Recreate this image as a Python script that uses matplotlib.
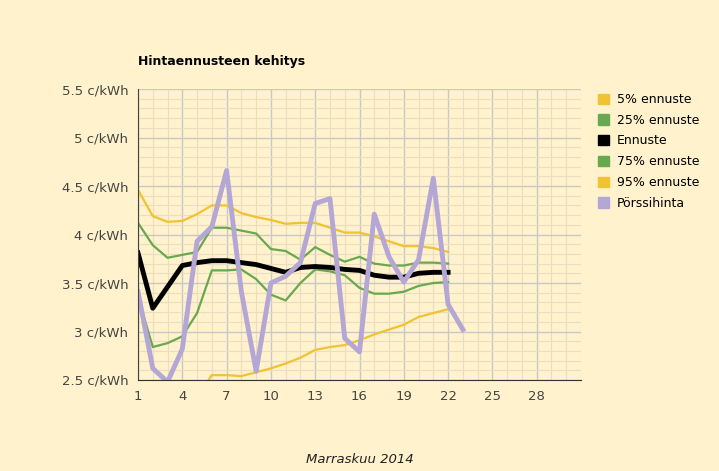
import matplotlib
matplotlib.use("Agg")
import matplotlib.pyplot as plt
from matplotlib.ticker import MultipleLocator
from matplotlib.patches import Patch

days = list(range(1, 23))
p5 = [4.46,4.19,4.13,4.14,4.21,4.30,4.30,4.22,4.18,4.15,4.11,4.12,4.12,4.07,4.02,4.02,3.98,3.93,3.88,3.88,3.86,3.82]
p25 = [4.12,3.89,3.76,3.79,3.82,4.07,4.07,4.04,4.01,3.85,3.83,3.74,3.87,3.79,3.72,3.77,3.70,3.68,3.68,3.71,3.71,3.70]
ennuste = [3.81,3.24,3.46,3.68,3.71,3.73,3.73,3.71,3.69,3.65,3.61,3.66,3.67,3.66,3.64,3.63,3.58,3.56,3.56,3.60,3.61,3.61]
p75 = [3.36,2.84,2.88,2.95,3.19,3.63,3.63,3.64,3.54,3.38,3.32,3.50,3.64,3.62,3.58,3.45,3.39,3.39,3.41,3.47,3.50,3.51]
p95 = [2.20,2.20,2.22,2.25,2.33,2.55,2.55,2.54,2.58,2.62,2.67,2.73,2.81,2.84,2.86,2.91,2.97,3.02,3.07,3.15,3.19,3.23]
spot_days = list(range(1, 24))
spot = [3.41,2.62,2.48,2.82,3.93,4.08,4.66,3.41,2.59,3.50,3.57,3.71,4.32,4.37,2.93,2.79,4.21,3.77,3.51,3.74,4.58,3.28,3.02]
xticks = [1,4,7,10,13,16,19,22,25,28]
yticks = [2.5,3.0,3.5,4.0,4.5,5.0,5.5]
ylabels = ["2.5 c/kWh","3 c/kWh","3.5 c/kWh","4 c/kWh","4.5 c/kWh","5 c/kWh","5.5 c/kWh"]

bg = "#FFF2CC"
yel = "#F1C232"
grn = "#6AA84F"
pur = "#B4A7D6"

fig = plt.figure(figsize=(7.19, 4.71), dpi=100, facecolor=bg)
ax = fig.add_axes([138/719, 1-380/471, (581-138)/719, (380-89)/471])
ax.set_facecolor(bg)
ax.plot(days, p5, color=yel, lw=1.6)
ax.plot(days, p25, color=grn, lw=1.6)
ax.plot(days, p75, color=grn, lw=1.6)
ax.plot(days, p95, color=yel, lw=1.6)
ax.plot(days, ennuste, color="black", lw=3.5)
ax.plot(spot_days, spot, color=pur, lw=3.5)
ax.set_xlim(1, 31)
ax.set_ylim(2.5, 5.5)
ax.set_xticks(xticks)
ax.set_yticks(yticks)
ax.set_yticklabels(ylabels)
ax.xaxis.set_minor_locator(MultipleLocator(1))
ax.yaxis.set_minor_locator(MultipleLocator(0.1))
ax.grid(which="major", color="#C8C8C8", lw=1)
ax.grid(which="minor", color="#EBDDBF", lw=0.8)
ax.set_axisbelow(True)
for s in ["top", "right"]:
    ax.spines[s].set_visible(False)
ax.spines["left"].set_color("#444444")
ax.spines["bottom"].set_color("#333333")
ax.tick_params(which="both", length=0, labelsize=9.5, colors="#444444", pad=7)
ax.set_xlabel("Marraskuu 2014", style="italic", fontsize=9.5, color="#222222", labelpad=36)
fig.text(138/719, 1-62/471, "Hintaennusteen kehitys", fontsize=9, fontweight="bold", va="center")
handles = [Patch(color=yel), Patch(color=grn), Patch(color="black"), Patch(color=grn), Patch(color=yel), Patch(color=pur)]
names = ["5% ennuste", "25% ennuste", "Ennuste", "75% ennuste", "95% ennuste", "Pörssihinta"]
fig.legend(handles, names, loc="upper left", bbox_to_anchor=(593/719, 1-88/471), frameon=False,
           fontsize=9, handlelength=0.9, handleheight=0.9, labelspacing=0.62, handletextpad=0.6, borderaxespad=0)
fig.savefig("out.png", dpi=100, facecolor=bg)
